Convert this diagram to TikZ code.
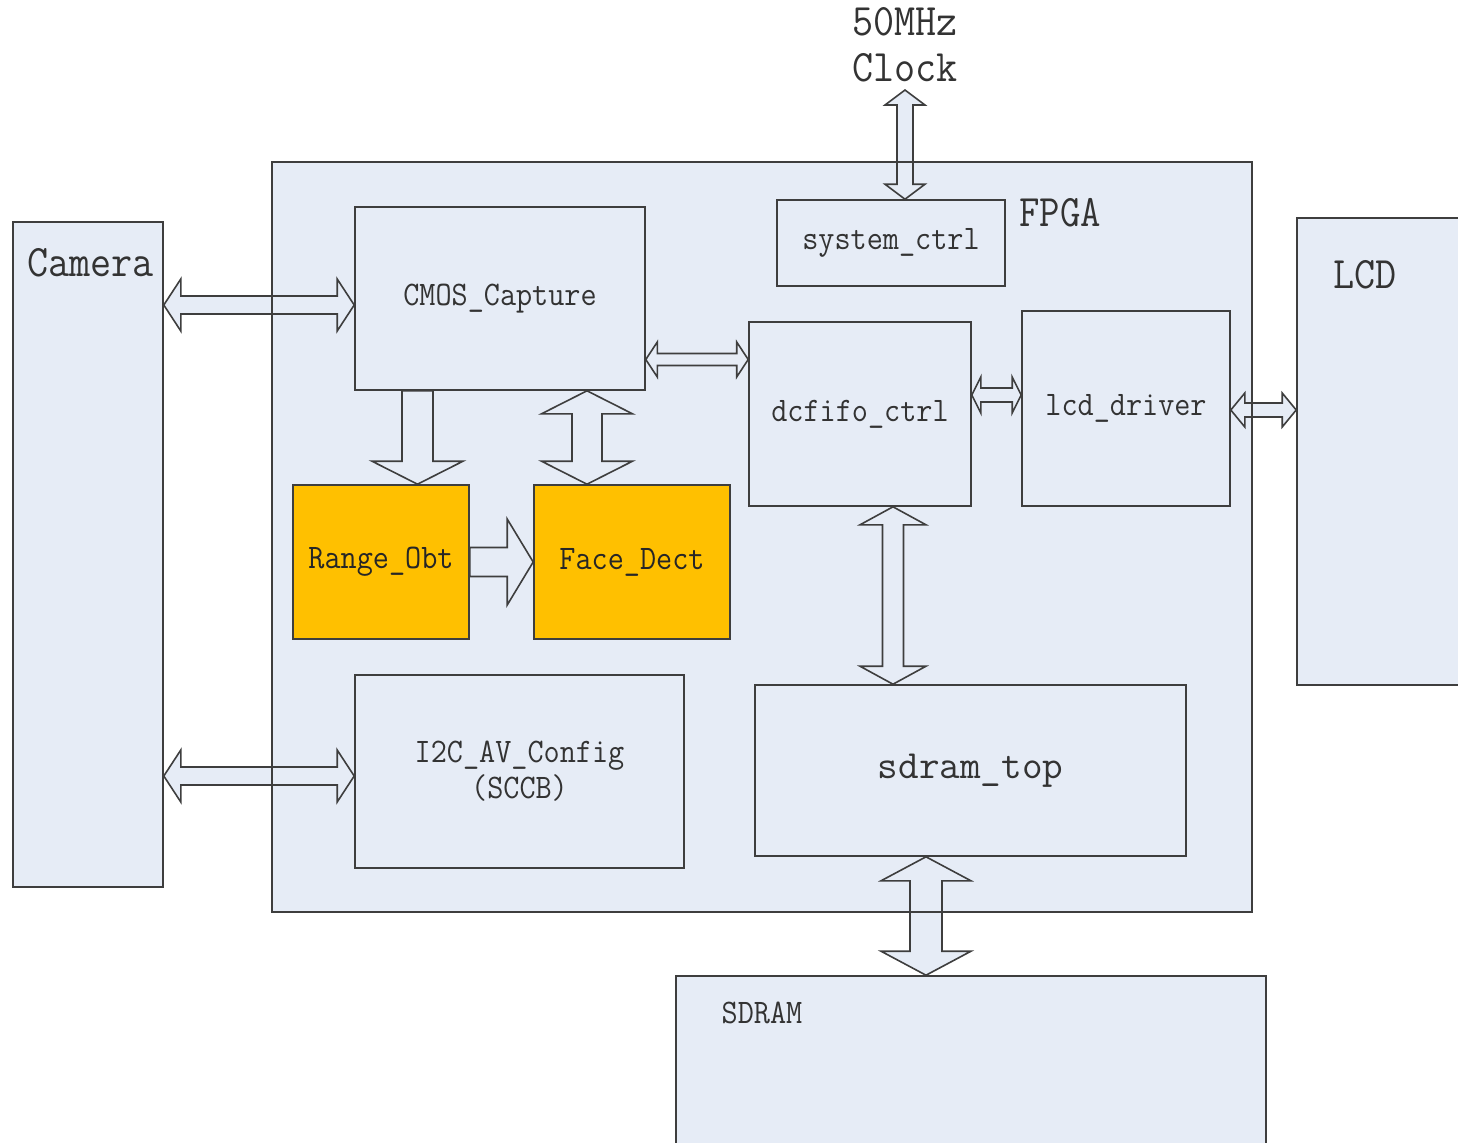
\documentclass[tikz,border=0pt]{standalone}
\usepackage{fontspec}
\usepackage{tikz}
\usetikzlibrary{calc}
\newcommand{\blkfont}{\ttfamily\fontsize{17.2}{18}\selectfont}
\newcommand{\topfont}{\ttfamily\fontsize{20}{24}\selectfont}
\newcommand{\lblfont}{\ttfamily\fontsize{22.5}{23}\selectfont}
\newcommand{\tx}[1]{\scalebox{0.91}[1]{#1}}
\definecolor{boxblue}{RGB}{230,236,246}
\definecolor{linegray}{RGB}{62,62,62}
\definecolor{hotorange}{RGB}{255,192,0}
% fat double-headed arrow: from, to, half shaft, half head, head length
\newcommand{\fatarrow}[5]{%
  \coordinate (ha) at ($#1!#5!#2$);
  \coordinate (hb) at ($#2!#5!#1$);
  \draw[fatarr] #1 -- ($(ha)!#4!90:#2$) -- ($(ha)!#3!90:#2$) -- ($(hb)!#3!90:#2$) -- ($(hb)!#4!90:#2$) -- #2
    -- ($(hb)!#4!-90:#2$) -- ($(hb)!#3!-90:#2$) -- ($(ha)!#3!-90:#2$) -- ($(ha)!#4!-90:#2$) -- cycle;
}
% fat arrow with one head at the second point
\newcommand{\fatarrowone}[5]{%
  \coordinate (hb) at ($#2!#5!#1$);
  \draw[fatarr] ($#1!#3!90:#2$) -- ($(hb)!#3!90:#2$) -- ($(hb)!#4!90:#2$) -- #2
    -- ($(hb)!#4!-90:#2$) -- ($(hb)!#3!-90:#2$) -- ($#1!#3!-90:#2$) -- cycle;
}
\begin{document}
\begin{tikzpicture}[
          x=0.5pt, y=-0.5pt,
          outer/.style={
              draw=linegray,
              fill=boxblue,
              line width=0.8pt,
              inner sep=0pt
            },
          blk/.style={
              draw=linegray,
              fill=boxblue,
              line width=0.8pt,
              inner sep=0pt,
              text=black!80,
              font=\blkfont,
              align=center
            },
          hot/.style={blk, fill=hotorange, text=black!85},
          lbl/.style={inner sep=0pt, text=black!80, font=\lblfont, align=center},
          fatarr/.style={draw=linegray, fill=boxblue, line width=0.8pt, line join=miter}
        ]
        \useasboundingbox (0,0) rectangle (1458,1142);
        \clip (0,0) rectangle (1458,1142);

        % outside parts
        \node[outer, minimum width=75pt, minimum height=332.5pt] (cam) at (88,554.5) {};
        \node[lbl, anchor=west] at (27,263) {\tx{Camera}};
        \node[outer, minimum width=100pt, minimum height=233.5pt] (lcd) at (1397,451.5) {};
        \node[lbl] at (1365,275) {\tx{LCD}};
        \node[outer, minimum width=295pt, minimum height=112pt] (sdram) at (971,1088) {};
        \node[lbl, font=\blkfont] at (762,1013) {\tx{SDRAM}};
        \node[lbl] (clk) at (905,45) {\tx{50MHz}\\\tx{Clock}};

        % FPGA
        \node[outer, draw=none, minimum width=489pt, minimum height=374pt] (fpga) at (762,537) {};
        \node[lbl] at (1060,213) {\scalebox{0.88}[1]{FPGA}};

        \node[blk, minimum width=114pt, minimum height=43pt] (sys) at (891,243) {\tx{system\_ctrl}};
        \node[blk, minimum width=145pt, minimum height=91.5pt] (cmos) at (500,298.5) {\tx{CMOS\_Capture}};
        \node[blk, minimum width=111pt, minimum height=92pt] (dcf) at (860,414) {\tx{dcfifo\_ctrl}};
        \node[blk, minimum width=104pt, minimum height=97.5pt] (lcdd) at (1126,408.5) {\tx{lcd\_driver}};
        \node[hot, minimum width=88pt, minimum height=77pt] (rng) at (381,562) {\tx{Range\_Obt}};
        \node[hot, minimum width=98pt, minimum height=77pt] (face) at (632,562) {\tx{Face\_Dect}};
        \node[blk, minimum width=164.5pt, minimum height=96.5pt] (i2c) at (519.5,771.5) {\tx{I2C\_AV\_Config}\\\tx{(SCCB)}};
        \node[blk, minimum width=215.5pt, minimum height=85.5pt, font=\topfont] (sdt) at (970.5,770.5) {sdram\_top};

        % fat arrows
        \coordinate (clkin) at (905,90);
        \fatarrow{(clkin)}{(clkin |- sys.north)}{4pt}{10pt}{7.5pt}
        \coordinate (camc) at (cmos.west |- 0,305);
        \fatarrow{(cam.east |- camc)}{(camc)}{4.5pt}{13pt}{8.5pt}
        \coordinate (cami) at (i2c.west |- 0,776);
        \fatarrow{(cam.east |- cami)}{(cami)}{4.5pt}{13pt}{8.5pt}
        \coordinate (rngin) at (rng.north -| 417.5,0);
        \fatarrowone{(cmos.south -| rngin)}{(rngin)}{7.75pt}{22.75pt}{11.5pt}
        \coordinate (facein) at (face.north -| 587,0);
        \fatarrow{(cmos.south -| facein)}{(facein)}{7.5pt}{22.75pt}{11.5pt}
        \fatarrowone{(rng.east)}{(face.west)}{7.25pt}{21.5pt}{13pt}
        \fatarrow{(cmos.east |- 0,359.5)}{(dcf.west |- 0,359.5)}{3pt}{8.75pt}{5.75pt}
        \fatarrow{(dcf.east |- 0,395)}{(lcdd.west |- 0,395)}{3.5pt}{9pt}{4.5pt}
        \fatarrow{(lcdd.east |- 0,410)}{(lcd.west |- 0,410)}{3.5pt}{8.5pt}{7pt}
        \fatarrow{(dcf.south -| 893,0)}{(sdt.north -| 893,0)}{5.25pt}{16.5pt}{9pt}
        \fatarrow{(sdt.south -| 926,0)}{(sdram.north -| 926,0)}{8pt}{22.5pt}{12pt}

        \draw[draw=linegray, line width=0.8pt] (fpga.north west) rectangle (fpga.south east);
      \end{tikzpicture}
\end{document}
